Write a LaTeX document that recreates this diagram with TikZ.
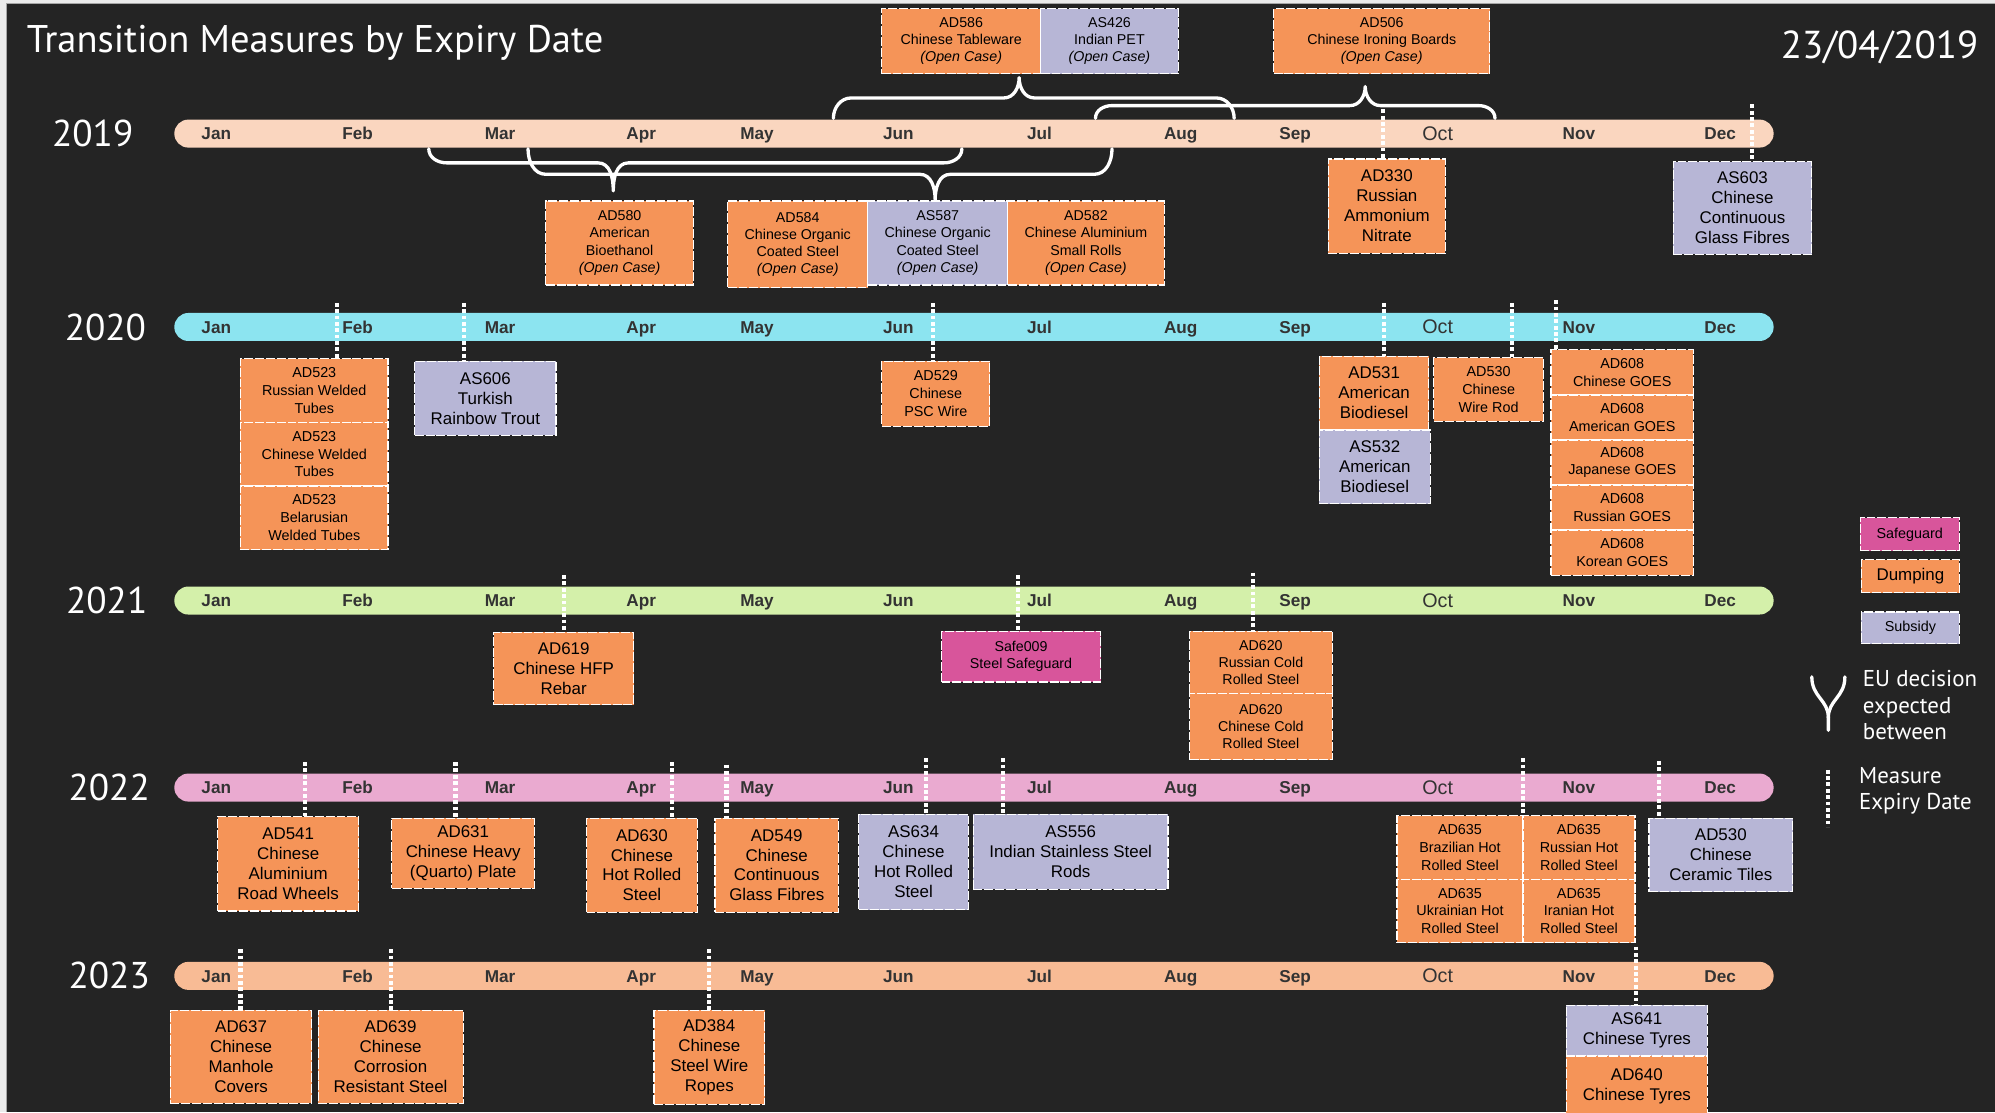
\documentclass[tikz,border=0pt]{standalone}
\usepackage{fontspec}
\setmainfont{Liberation Sans}
\newfontfamily\ptsans{PT Sans}
\definecolor{bg}{HTML}{242424}
\definecolor{cA}{HTML}{FAD6BF}
\definecolor{cB}{HTML}{8CE4F0}
\definecolor{cC}{HTML}{D4F0AA}
\definecolor{cD}{HTML}{EAAAD0}
\definecolor{cE}{HTML}{F8BB95}
\definecolor{orng}{HTML}{F59458}
\definecolor{lav}{HTML}{B7B6D6}
\definecolor{mag}{HTML}{D8559B}
\definecolor{mtxt}{HTML}{333333}
\newcommand{\bx}[7]{\node[#2, minimum width={#5-#3}, minimum height={#6-#4}] (#1) at ({(#3+#5)/2},{(#4+#6)/2}) {#7};}
\newcommand{\exl}[4]{\coordinate (#1) at (#2,#3); \draw[expline] (#1) -- (#1 |- #4);}
\newcommand{\months}[2]{%
  \foreach \mx/\mn in {170/Jan,281/Feb,393/Mar,504/Apr,595/May,706/Jun,817/Jul,928/Aug,1018/Sep,1241/Nov,1352/Dec}
    {\node[mlab] (#1\mn) at (\mx,#2+5) {\mn};}
  \node[mlab, font=\fontsize{15.5}{16}\selectfont] (#1Oct) at (1130,#2+5.5) {Oct};}
\begin{document}
\begin{tikzpicture}[x=1pt,y=-1pt,
  box/.style={draw=white, line width=0.9pt, dash pattern=on 7pt off 1.5pt, inner sep=1pt, align=center, text=black},
  dump/.style={box, fill=orng},
  sub/.style={box, fill=lav},
  safe/.style={box, fill=mag},
  sm/.style={font=\fontsize{11.2}{13.4}\selectfont},
  md/.style={font=\fontsize{11.3}{14}\selectfont},
  lg/.style={font=\fontsize{13.3}{15.7}\selectfont},
  bar/.style={minimum width=1257, minimum height=22, rounded corners=11, inner sep=0},
  mlab/.style={font=\fontsize{13.5}{14}\selectfont\bfseries, text=mtxt, inner sep=0, anchor=base},
  yr/.style={font=\ptsans\fontsize{29.3}{30}\selectfont, text=white, anchor=east, inner sep=0},
  expline/.style={draw=white, line width=3.2pt, dash pattern=on 3pt off 2pt},
  brc/.style={draw=white, line width=2.6pt, line cap=round, line join=round},
  legtext/.style={font=\ptsans\fontsize{18}{20.5}\selectfont, text=white, align=left, anchor=north west, inner sep=0}
]
\useasboundingbox (0,0) rectangle (1568,874);
\fill[white!92!black] (0,0) rectangle (1568,874);
\fill[bg] (5,3) rectangle (1568,874);
\draw[gray!70, line width=1pt] (5,874) -- (5,3) -- (1568,3);

% title
\node[font=\ptsans\fontsize{30.3}{32}\selectfont, text=white, anchor=west, inner sep=0] (title) at (21,34) {Transition Measures by Expiry Date};
\node[font=\ptsans\fontsize{30.6}{32}\selectfont, text=white, anchor=east, inner sep=0] (date) at (1555,37) {23/04/2019};

% year labels
\node[yr] (y19) at (105,105) {2019};
\node[yr] (y20) at (115,257) {2020};
\node[yr] (y21) at (116,472) {2021};
\node[yr] (y22) at (118,619) {2022};
\node[yr] (y23) at (118,767) {2023};

% bars
\node[bar, fill=cA] (bar19) at (765.5,105) {};
\node[bar, fill=cB] (bar20) at (765.5,257) {};
\node[bar, fill=cC] (bar21) at (765.5,472) {};
\node[bar, fill=cD] (bar22) at (765.5,619) {};
\node[bar, fill=cE] (bar23) at (765.5,767) {};

% braces 2019
\draw[brc] (655,93) to[out=90,in=180] (669,77) -- (789,77) to[out=0,in=-90] (801,61) to[out=-90,in=180] (813,77) -- (956,77) to[out=0,in=90] (970,93);
\draw[brc] (861,93) to[out=90,in=180] (874,83) -- (1061,83) to[out=0,in=-90] (1073,68) to[out=-90,in=180] (1085,83) -- (1162,83) to[out=0,in=90] (1175,93);
\draw[brc] (337,117) to[out=-90,in=180] (351,128) -- (470,128) to[out=0,in=90] (482,150) to[out=90,in=180] (494,128) -- (742,128) to[out=0,in=-90] (756,117);
\draw[brc] (415,117) to[out=-90,in=180] (429,137) -- (723,137) to[out=0,in=90] (735,157) to[out=90,in=180] (747,137) -- (860,137) to[out=0,in=-90] (874,117);

% month labels
\months{a}{105}
\months{b}{257}
\months{c}{472}
\months{d}{619}
\months{e}{767}

% 2019 boxes
\bx{ad586}{dump,sm}{693}{7}{818}{58}{AD586\\Chinese Tableware\\\textit{(Open Case)}}
\bx{as426}{sub,sm}{818}{7}{926}{58}{AS426\\Indian PET\\\textit{(Open Case)}}
\bx{ad506}{dump,sm}{1001}{7}{1171}{58}{AD506\\Chinese Ironing Boards\\\textit{(Open Case)}}
\bx{ad580}{dump,sm}{429}{158}{545}{224}{AD580\\American\\Bioethanol\\\textit{(Open Case)}}
\bx{ad584}{dump,sm}{572}{158}{682}{226}{AD584\\Chinese Organic\\Coated Steel\\\textit{(Open Case)}}
\bx{as587}{sub,sm}{682}{158}{792}{224}{AS587\\Chinese Organic\\Coated Steel\\\textit{(Open Case)}}
\bx{ad582}{dump,sm}{792}{158}{915}{224}{AD582\\Chinese Aluminium\\Small Rolls\\\textit{(Open Case)}}
\bx{ad330}{dump,lg}{1044}{125}{1136}{199}{AD330\\Russian\\Ammonium\\Nitrate}
\bx{as603}{sub,lg}{1315}{127}{1424}{200}{AS603\\Chinese\\Continuous\\Glass Fibres}

% 2020 boxes
\bx{ad523a}{dump,md}{189}{282}{305}{332}{AD523\\Russian Welded\\Tubes}
\bx{ad523b}{dump,md}{189}{332}{305}{382}{AD523\\Chinese Welded\\Tubes}
\bx{ad523c}{dump,md}{189}{382}{305}{432}{AD523\\Belarusian\\Welded Tubes}
\bx{as606}{sub,lg}{326}{284}{437}{342}{AS606\\Turkish\\Rainbow Trout}
\bx{ad529}{dump,md}{693}{284}{778}{335}{AD529\\Chinese\\PSC Wire}
\bx{ad531}{dump,lg}{1037}{280}{1123}{338}{AD531\\American\\Biodiesel}
\bx{as532}{sub,lg}{1037}{338}{1124}{396}{AS532\\American\\Biodiesel}
\bx{ad530a}{dump,md}{1127}{281}{1213}{331}{AD530\\Chinese\\Wire Rod}
\bx{ad608a}{dump,md}{1219}{275}{1331}{310.4}{AD608\\Chinese GOES}
\bx{ad608b}{dump,md}{1219}{310.4}{1331}{345.8}{AD608\\American GOES}
\bx{ad608c}{dump,md}{1219}{345.8}{1331}{381.2}{AD608\\Japanese GOES}
\bx{ad608d}{dump,md}{1219}{381.2}{1331}{416.6}{AD608\\Russian GOES}
\bx{ad608e}{dump,md}{1219}{416.6}{1331}{452}{AD608\\Korean GOES}

% 2021 boxes
\bx{ad619}{dump,lg}{388}{497}{498}{554}{AD619\\Chinese HFP\\Rebar}
\bx{safe009}{safe,sm}{740}{496}{865}{536}{Safe009\\Steel Safeguard}
\bx{ad620a}{dump,sm}{935}{496}{1047}{545}{AD620\\Russian Cold\\Rolled Steel}
\bx{ad620b}{dump,sm}{935}{545}{1047}{597}{AD620\\Chinese Cold\\Rolled Steel}

% 2022 boxes
\bx{ad541}{dump,lg}{171}{642}{282}{716}{AD541\\Chinese\\Aluminium\\Road Wheels}
\bx{ad631}{dump,lg}{308}{643}{420}{698}{AD631\\Chinese Heavy\\(Quarto) Plate}
\bx{ad630}{dump,lg}{461}{643}{548}{717}{AD630\\Chinese\\Hot Rolled\\Steel}
\bx{ad549}{dump,lg}{562}{643}{659}{717}{AD549\\Chinese\\Continuous\\Glass Fibres}
\bx{as634}{sub,lg}{675}{640}{761}{715}{AS634\\Chinese\\Hot Rolled\\Steel}
\bx{as556}{sub,lg}{765}{640}{918}{699}{AS556\\Indian Stainless Steel\\Rods}
\bx{ad635a}{dump,md}{1098}{641}{1197}{691}{AD635\\Brazilian Hot\\Rolled Steel}
\bx{ad635b}{dump,md}{1197}{641}{1285}{691}{AD635\\Russian Hot\\Rolled Steel}
\bx{ad635c}{dump,md}{1098}{691}{1197}{741}{AD635\\Ukrainian Hot\\Rolled Steel}
\bx{ad635d}{dump,md}{1197}{691}{1285}{741}{AD635\\Iranian Hot\\Rolled Steel}
\bx{ad530b}{sub,lg}{1296}{643}{1409}{701}{AD530\\Chinese\\Ceramic Tiles}

% 2023 boxes
\bx{ad637}{dump,lg}{134}{794}{245}{867}{AD637\\Chinese\\Manhole\\Covers}
\bx{ad639}{dump,lg}{250}{794}{364}{867}{AD639\\Chinese\\Corrosion\\Resistant Steel}
\bx{ad384}{dump,lg}{514}{794}{601}{868}{AD384\\Chinese\\Steel Wire\\Ropes}
\bx{as641}{sub,lg}{1231}{790}{1342}{830}{AS641\\Chinese Tyres}
\bx{ad640}{dump,lg}{1231}{830}{1342}{878}{AD640\\Chinese Tyres}

% expiry lines
\exl{e1}{1087}{86}{ad330.north}
\exl{e2}{1377}{82}{as603.north}
\exl{e3}{265}{238}{ad523a.north}
\exl{e4}{365}{238}{as606.north}
\exl{e5}{733}{238}{ad529.north}
\exl{e6}{1088}{238}{ad531.north}
\exl{e7}{1188}{238}{ad530a.north}
\exl{e8}{1223}{236}{ad608a.north}
\exl{e9}{443}{452}{ad619.north}
\exl{e10}{800}{452}{safe009.north}
\exl{e11}{985}{450}{ad620a.north}
\exl{e12}{240}{599}{ad541.north}
\exl{e13}{358}{599}{ad631.north}
\exl{e14}{528}{599}{ad630.north}
\exl{e15}{571}{601}{ad549.north}
\exl{e16}{728}{596}{as634.north}
\exl{e17}{788}{596}{as556.north}
\exl{e18}{1197}{596}{ad635a.north}
\exl{e19}{1304}{598}{ad530b.north}
\exl{e20}{189}{746}{ad637.north}
\exl{e21}{307}{746}{ad639.north}
\exl{e22}{557}{746}{ad384.north}
\exl{e23}{1286}{744}{as641.north}

% legend
\bx{lgsafe}{safe,md}{1462}{407}{1540}{433}{Safeguard}
\bx{lgdump}{dump,lg}{1463}{440}{1540}{466}{Dumping}
\bx{lgsub}{sub,md}{1463}{481}{1540}{506}{Subsidy}
\draw[brc] (1424,532) .. controls (1424,548) and (1437,550) .. (1437,564) -- (1437,574);
\draw[brc] (1450,532) .. controls (1450,548) and (1437,550) .. (1437,564);
\node[legtext] (lgeu) at (1464,527) {EU decision\\expected\\between};
\coordinate (ld1) at (1437,605);
\coordinate (ld2) at (1437,650);
\draw[expline] (ld1) -- (ld2);
\node[legtext] (lgme) at (1461,603) {Measure\\Expiry Date};
\end{tikzpicture}
\end{document}
